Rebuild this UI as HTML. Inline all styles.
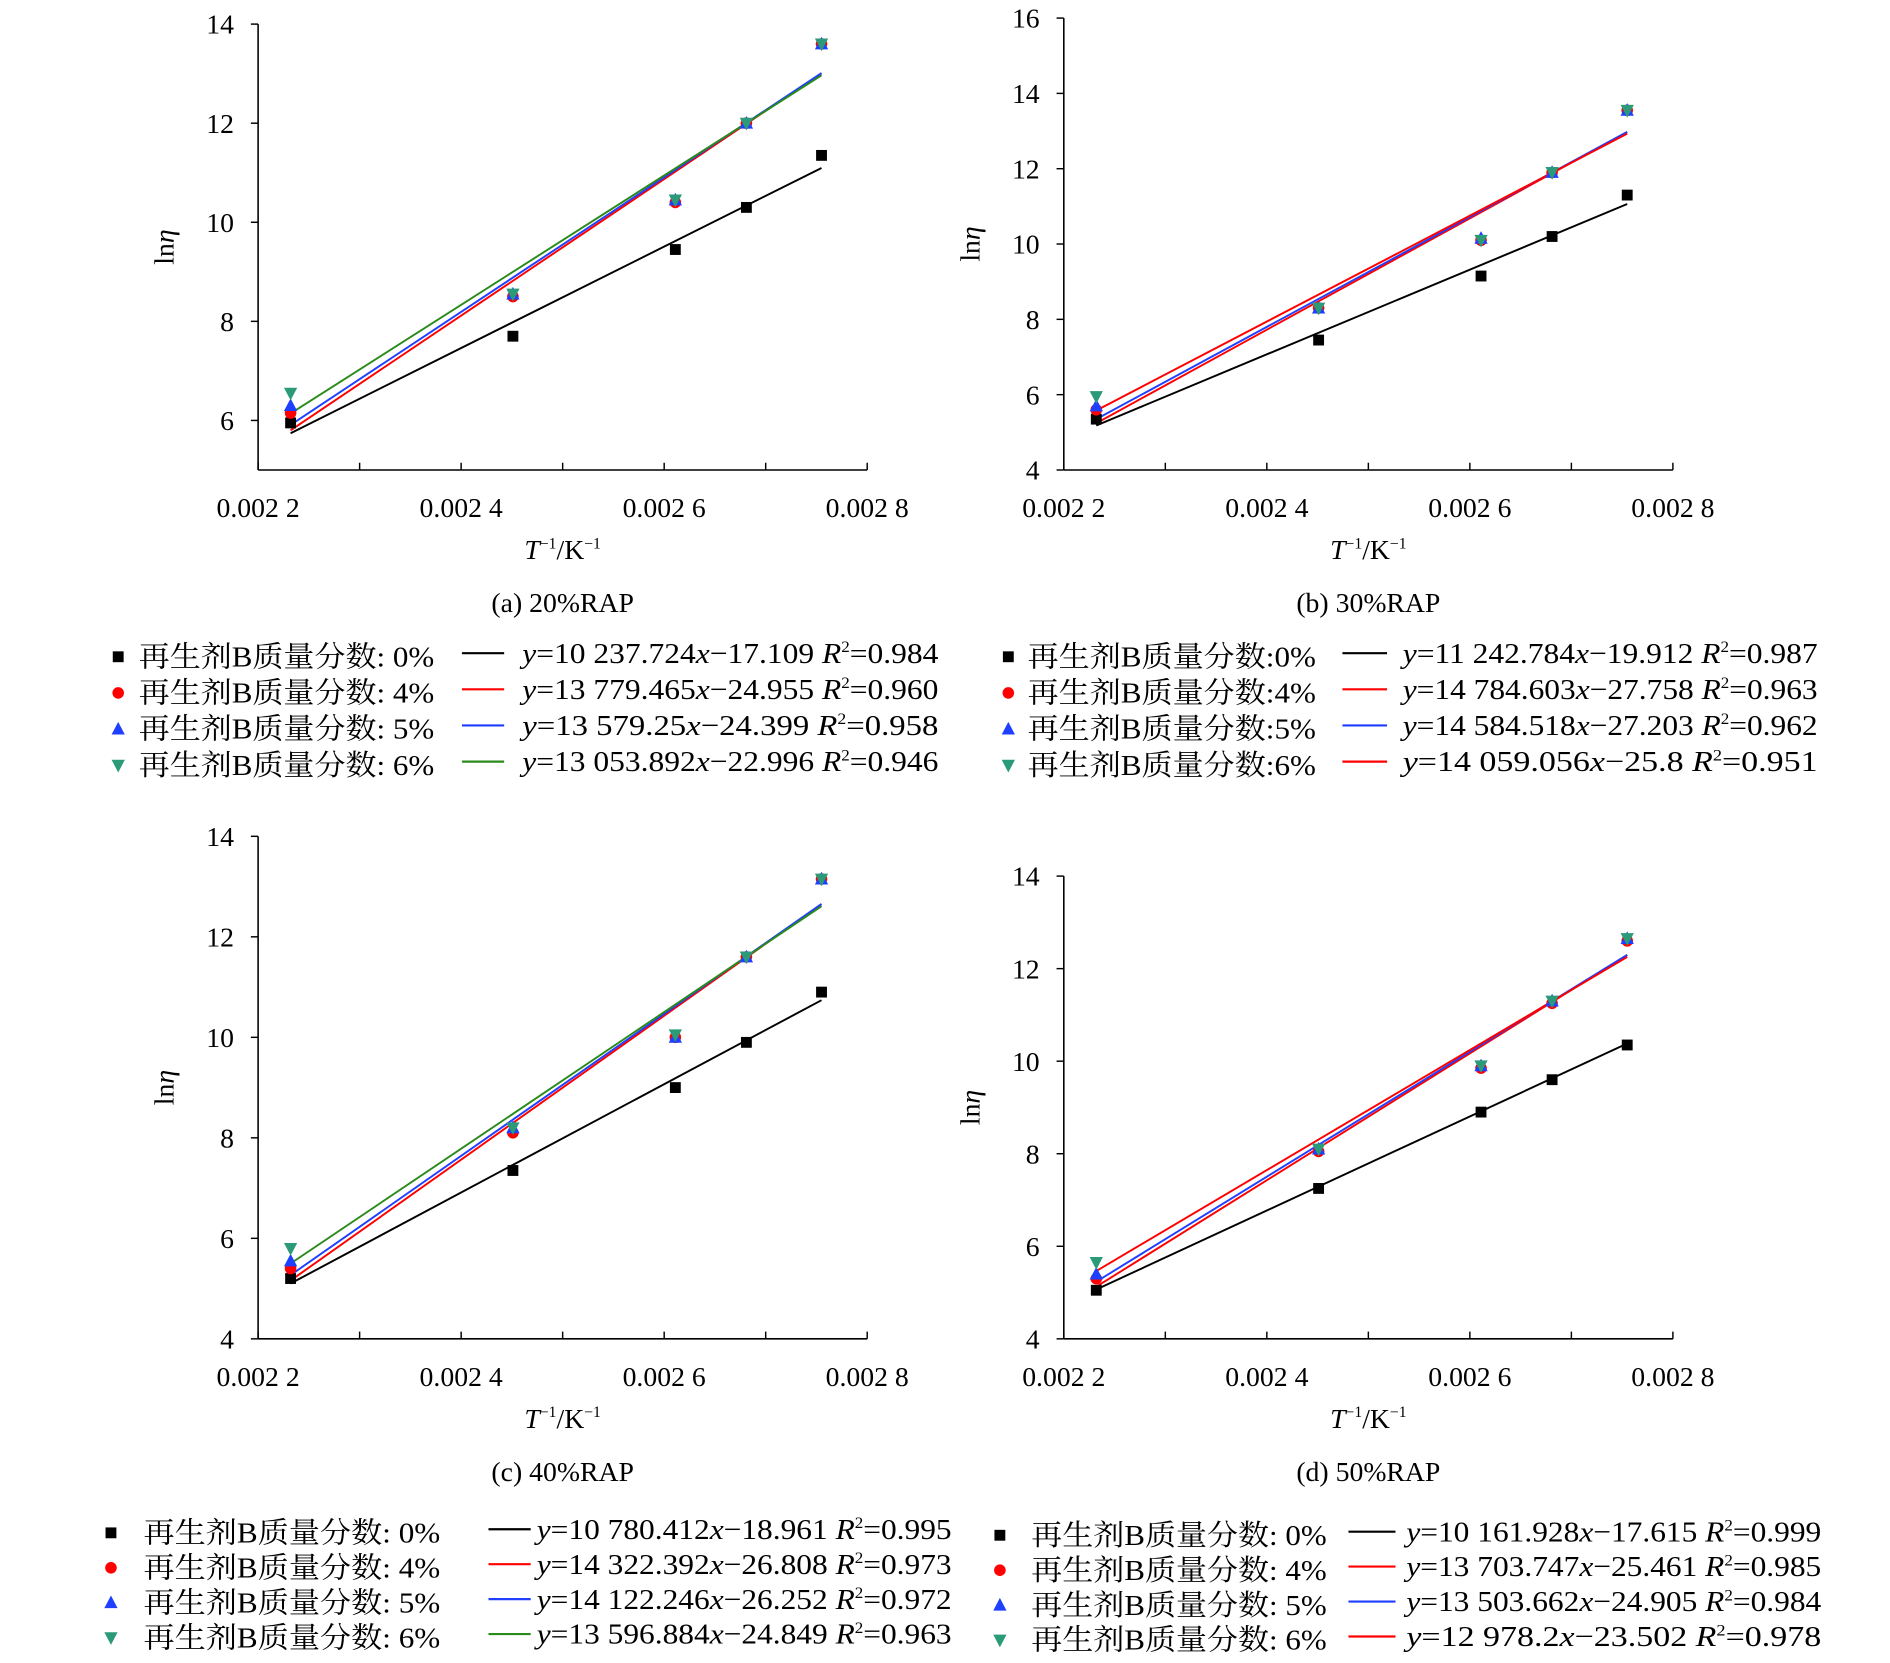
<!DOCTYPE html>
<html><head><meta charset="utf-8"><style>
html,body{margin:0;padding:0;background:#fff;}
svg{display:block;}
text{font-family:"Liberation Serif","Noto Serif CJK SC","Noto Sans CJK SC",serif;fill:#000;}
</style></head><body>
<svg id="fig" width="1890" height="1663" viewBox="0 0 1567 1380" preserveAspectRatio="none" xmlns="http://www.w3.org/2000/svg"></svg>
<script>
// data: x positions (1/T)
const xVals = [0.002232, 0.002451, 0.002611, 0.002681, 0.002755];
const seriesLabels = ['0%', '4%', '5%', '6%'];
// panel (a) 20%RAP
const a0 = [5.95, 7.7, 9.45, 10.3, 11.35];
const a4 = [6.15, 8.5, 10.4, 12.0, 13.6];
const a5 = [6.3, 8.55, 10.45, 12.0, 13.6];
const a6 = [6.55, 8.55, 10.45, 12.0, 13.6];
const aSlopes = [10237.724, 13779.465, 13579.25, 13053.892];
const aInter = [-17.109, -24.955, -24.399, -22.996];
const aR2 = ['0.984', '0.960', '0.958', '0.946'];
const aEq = ['10 237.724', '13 779.465', '13 579.25', '13 053.892'];
const aB = ['17.109', '24.955', '24.399', '22.996'];
// panel (b) 30%RAP
const b0 = [5.35, 7.45, 9.15, 10.2, 11.3];
const b4 = [5.6, 8.3, 10.1, 11.9, 13.55];
const b5 = [5.7, 8.3, 10.15, 11.9, 13.55];
const b6 = [5.95, 8.3, 10.1, 11.9, 13.55];
const bSlopes = [11242.784, 14784.603, 14584.518, 14059.056];
const bInter = [-19.912, -27.758, -27.203, -25.8];
const bR2 = ['0.987', '0.963', '0.962', '0.951'];
const bEq = ['11 242.784', '14 784.603', '14 584.518', '14 059.056'];
const bB = ['19.912', '27.758', '27.203', '25.8'];
// panel (c) 40%RAP
const c0 = [5.2, 7.35, 9.0, 9.9, 10.9];
const c4 = [5.4, 8.1, 10.0, 11.6, 13.15];
const c5 = [5.55, 8.2, 10.0, 11.6, 13.15];
const c6 = [5.8, 8.2, 10.05, 11.6, 13.15];
const cSlopes = [10780.412, 14322.392, 14122.246, 13596.884];
const cInter = [-18.961, -26.808, -26.252, -24.849];
const cR2 = ['0.995', '0.973', '0.972', '0.963'];
const cEq = ['10 780.412', '14 322.392', '14 122.246', '13 596.884'];
const cB = ['18.961', '26.808', '26.252', '24.849'];
// panel (d) 50%RAP
const d0 = [5.05, 7.25, 8.9, 9.6, 10.35];
const d4 = [5.3, 8.05, 9.85, 11.25, 12.6];
const d5 = [5.4, 8.1, 9.9, 11.3, 12.65];
const d6 = [5.65, 8.1, 9.9, 11.3, 12.65];
const dSlopes = [10161.928, 13703.747, 13503.662, 12978.2];
const dInter = [-17.615, -25.461, -24.905, -23.502];
const dR2 = ['0.999', '0.985', '0.984', '0.978'];
const dEq = ['10 161.928', '13 703.747', '13 503.662', '12 978.2'];
const dB = ['17.615', '25.461', '24.905', '23.502'];
const xTickLabels = ['0.002 2', '0.002 4', '0.002 6', '0.002 8'];

const NS = 'http://www.w3.org/2000/svg';
const svg = document.getElementById('fig');
function mk(tag, attrs, parent) {
  const e = document.createElementNS(NS, tag);
  for (const k in attrs) e.setAttribute(k, attrs[k]);
  (parent || svg).appendChild(e);
  return e;
}
const markerColors = ['#000000', '#ff0000', '#1f3fff', '#2a9a78'];

const panels = [
  {id:'a', cap:'(a) 20%RAP', data:[a0,a4,a5,a6], k:aSlopes, c:aInter, r2:aR2, eq:aEq, bb:aB, lineCols:['#000','#ff0000','#1f3fff','#2a8a1a'],
   x0:214, x1:719, yTop:20, yBot:390, ymin:5, ymax:14, yTicks:[6,8,10,12,14], sep:' ',
   leg:{y:545, mx:98, tx:115, tw:245, lx0:383, lx1:418, ex:433, ew:345, dy:30}},
  {id:'b', cap:'(b) 30%RAP', data:[b0,b4,b5,b6], k:bSlopes, c:bInter, r2:bR2, eq:bEq, bb:bB, lineCols:['#000','#ff0000','#1f3fff','#ff0000'],
   x0:882, x1:1387, yTop:15, yBot:390, ymin:4, ymax:16, yTicks:[4,6,8,10,12,14,16], sep:'',
   leg:{y:545, mx:836, tx:852, tw:239, lx0:1113, lx1:1150, ex:1163, ew:344, dy:30}},
  {id:'c', cap:'(c) 40%RAP', data:[c0,c4,c5,c6], k:cSlopes, c:cInter, r2:cR2, eq:cEq, bb:cB, lineCols:['#000','#ff0000','#1f3fff','#2a8a1a'],
   x0:214, x1:719, yTop:694, yBot:1111, ymin:4, ymax:14, yTicks:[4,6,8,10,12,14], sep:' ',
   leg:{y:1272, mx:92, tx:119, tw:246, lx0:405, lx1:440, ex:445, ew:344, dy:29}},
  {id:'d', cap:'(d) 50%RAP', data:[d0,d4,d5,d6], k:dSlopes, c:dInter, r2:dR2, eq:dEq, bb:dB, lineCols:['#000','#ff0000','#1f3fff','#ff0000'],
   x0:882, x1:1387, yTop:727, yBot:1111, ymin:4, ymax:14, yTicks:[4,6,8,10,12,14], sep:' ',
   leg:{y:1274, mx:829, tx:855, tw:245, lx0:1118, lx1:1157, ex:1166, ew:344, dy:29}}
];

function marker(g, i, x, y, col) {
  let e;
  if (i === 0) e = mk('rect', {x:x-4.5, y:y-4.5, width:9, height:9, fill:col}, g);
  else if (i === 1) e = mk('circle', {cx:x, cy:y, r:4.8, fill:col}, g);
  else if (i === 2) e = mk('polygon', {points:`${x},${y-6} ${x-5.5},${y+4.5} ${x+5.5},${y+4.5}`, fill:col}, g);
  else e = mk('polygon', {points:`${x-5.5},${y-4.5} ${x+5.5},${y-4.5} ${x},${y+6}`, fill:col}, g);
  return e;
}

panels.forEach(p => {
  const g = mk('g', {});
  
  
  const X = v => p.x0 + (v - 0.0022) / 0.0006 * (p.x1 - p.x0);
  const Y = v => p.yBot - (v - p.ymin) / (p.ymax - p.ymin) * (p.yBot - p.yTop);
  const ya = mk('line', {x1:p.x0, y1:p.yTop, x2:p.x0, y2:p.yBot, stroke:'#000', 'stroke-width':1.3}, g);
  
  
  const xa = mk('line', {x1:p.x0, y1:p.yBot, x2:p.x1, y2:p.yBot, stroke:'#000', 'stroke-width':1.3}, g);
  
  
  p.yTicks.forEach(t => {
    mk('line', {x1:p.x0-6, y1:Y(t), x2:p.x0, y2:Y(t), stroke:'#000', 'stroke-width':1.2}, g);
    const tl = mk('text', {x:p.x0-20, y:Y(t)+8, 'font-size':23, 'text-anchor':'end'}, g);
    tl.textContent = t;
    
    
  });
  for (let i = 0; i <= 6; i++) {
    const xv = 0.0022 + i * 0.0001;
    mk('line', {x1:X(xv), y1:p.yBot-6, x2:X(xv), y2:p.yBot, stroke:'#000', 'stroke-width':1.2}, g);
  }
  xTickLabels.forEach((s, i) => {
    const xl = mk('text', {x:X(0.0022 + i*0.0002), y:p.yBot+39, 'font-size':23, 'text-anchor':'middle'}, g);
    xl.textContent = s;
    
    
  });
  const xt = mk('text', {x:(p.x0+p.x1)/2, y:p.yBot+74, 'font-size':23, 'text-anchor':'middle'}, g);
  xt.innerHTML = '<tspan font-style="italic">T</tspan><tspan font-size="13" dy="-9">−1</tspan><tspan dy="9">/K</tspan><tspan font-size="13" dy="-9">−1</tspan>';
  
  
  const ycx = p.x0 - 70, ycy = (p.yTop + p.yBot) / 2;
  const yt = mk('text', {x:ycx, y:ycy, 'font-size':23, 'text-anchor':'middle', transform:`rotate(-90 ${ycx} ${ycy})`}, g);
  yt.innerHTML = 'ln<tspan font-style="italic">η</tspan>';
  
  
  const cap = mk('text', {x:(p.x0+p.x1)/2, y:p.yBot+118, 'font-size':23, 'text-anchor':'middle'}, g);
  cap.textContent = p.cap;
  
  
  for (let s = 0; s < 4; s++) {
    const xa0 = xVals[0], xa1 = xVals[xVals.length-1];
    const ln = mk('line', {x1:X(xa0), y1:Y(p.k[s]*xa0 + p.c[s]), x2:X(xa1), y2:Y(p.k[s]*xa1 + p.c[s]), stroke:p.lineCols[s], 'stroke-width':1.6}, g);
    
    
  }
  for (let s = 0; s < 4; s++) {
    p.data[s].forEach((v, j) => {
      const m = marker(g, s, X(xVals[j]), Y(v), markerColors[s]);
      
      
    });
  }
  const L = p.leg;
  for (let s = 0; s < 4; s++) {
    const y = L.y + s * L.dy;
    const lm = marker(g, s, L.mx, y, markerColors[s]);
    
    
    const lt = mk('text', {x:L.tx, y:y+8, 'font-size':24, textLength:L.tw, lengthAdjust:'spacingAndGlyphs'}, g);
    lt.textContent = '再生剂B质量分数:' + p.sep + seriesLabels[s];
    
    
    const ll = mk('line', {x1:L.lx0, y1:y-3, x2:L.lx1, y2:y-3, stroke:p.lineCols[s], 'stroke-width':1.8}, g);
    
    
    const et = mk('text', {x:L.ex, y:y+5, 'font-size':24, textLength:L.ew, lengthAdjust:'spacingAndGlyphs'}, g);
    et.innerHTML = `<tspan font-style="italic">y</tspan>=${p.eq[s]}<tspan font-style="italic">x</tspan>−${p.bb[s]} <tspan font-style="italic">R</tspan><tspan font-size="13" dy="-9">2</tspan><tspan dy="9">=${p.r2[s]}</tspan>`;
    
    
  }
});
</script>
</body></html>
